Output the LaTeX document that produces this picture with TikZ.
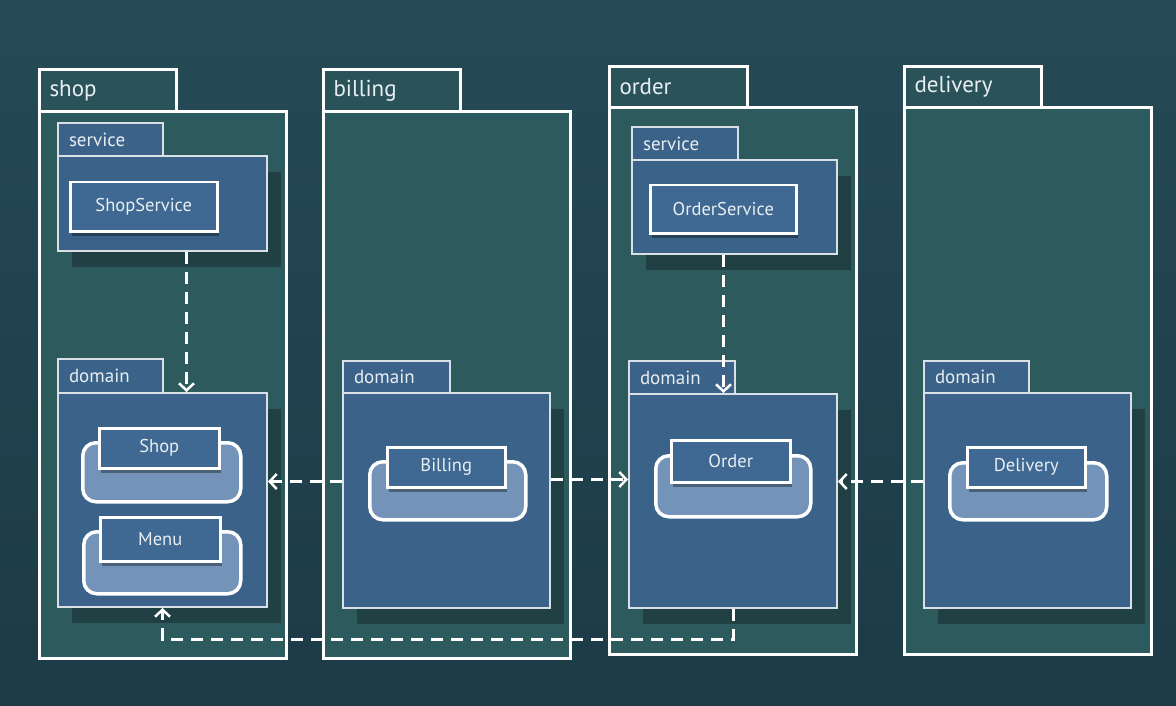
\documentclass[tikz,border=0pt]{standalone}
\usepackage{fontspec}
\setmainfont{PT Sans}
\usetikzlibrary{arrows.meta,shadows}
\definecolor{bgdark}{HTML}{1D3B47}
\definecolor{bglight}{HTML}{254B57}
\definecolor{pkgteal}{HTML}{2D5A5D}
\definecolor{tabteal}{HTML}{2A5359}
\definecolor{innerblue}{HTML}{3B6389}
\definecolor{classblue}{HTML}{3F6892}
\definecolor{backblue}{HTML}{7394B8}
\definecolor{inkwhite}{HTML}{E8EEF2}
\definecolor{rimgray}{HTML}{D9E1E6}
\tikzset{
  pkgbody/.style={draw=white, line width=3pt, fill=pkgteal, anchor=north west, inner sep=0pt},
  pkgtab/.style={draw=white, line width=3pt, fill=tabteal, anchor=north west, inner sep=0pt,
    inner xsep=10pt, align=left, text=inkwhite, font=\fontsize{23}{26}\selectfont},
  subbody/.style={draw=rimgray, line width=2pt, fill=innerblue, anchor=north west, inner sep=0pt,
    drop shadow={shadow xshift=14pt, shadow yshift=-16pt, opacity=.28, fill=black}},
  subtab/.style={draw=rimgray, line width=2pt, fill=innerblue, anchor=north west, inner sep=0pt,
    inner xsep=11pt, align=left, text=inkwhite, font=\fontsize{19}{22}\selectfont},
  classbox/.style={draw=white, line width=2.5pt, fill=classblue, anchor=north west, inner sep=0pt,
    text=inkwhite, font=\fontsize{18.5}{22}\selectfont,
    drop shadow={shadow xshift=2pt, shadow yshift=-5pt, opacity=.35, fill=black}},
  backing/.style={draw=white, line width=3.5pt, fill=backblue, rounded corners=13pt, anchor=north west, inner sep=0pt},
  dep/.style={draw=white, line width=3pt, dash pattern=on 12pt off 8pt,
    -{Straight Barb[length=7pt,width=15pt,line width=2.5pt]}}
}
\begin{document}
\begin{tikzpicture}[x=1pt,y=-1pt]
\shade[top color=bglight, bottom color=bgdark, middle color=bgdark!60!bglight] (0,0) rectangle (1176,706);
\useasboundingbox (0,0) rectangle (1176,706);
% shop
\node[pkgbody, minimum width=247pt, minimum height=547pt] (shop) at (38,110) {};
\node[pkgtab, minimum width=137pt, minimum height=42pt, text width=117pt] (shoptab) at (38,68) {shop};
\node[subbody, minimum width=209pt, minimum height=95pt] (shopsvc) at (57,155) {};
\node[subtab, minimum width=105pt, minimum height=33pt, text width=83pt] (shopsvctab) at (57,122) {service};
\node[classbox, minimum width=147pt, minimum height=49pt] (shopservice) at (69,181) {ShopService};
\node[subbody, minimum width=209pt, minimum height=214pt] (shopdom) at (57,392) {};
\node[subtab, minimum width=105pt, minimum height=34pt, text width=83pt] (shopdomtab) at (57,358) {domain};
\node[backing, minimum width=158pt, minimum height=59pt] (shopback) at (81,441) {};
\node[classbox, minimum width=120pt, minimum height=40pt] (shopent) at (98,427) {Shop};
\node[backing, minimum width=157pt, minimum height=62pt] (menuback) at (82,530) {};
\node[classbox, minimum width=120pt, minimum height=44pt] (menuent) at (99,516) {Menu};
% billing
\node[pkgbody, minimum width=247pt, minimum height=547pt] (billing) at (322,110) {};
\node[pkgtab, minimum width=137pt, minimum height=42pt, text width=117pt] (billingtab) at (322,68) {billing};
\node[subbody, minimum width=207pt, minimum height=215pt] (bildom) at (342,392) {};
\node[subtab, minimum width=107pt, minimum height=32pt, text width=85pt] (bildomtab) at (342,360) {domain};
\node[backing, minimum width=156pt, minimum height=58pt] (billback) at (368,460) {};
\node[classbox, minimum width=118pt, minimum height=40pt] (billent) at (386,446) {Billing};
% order
\node[pkgbody, minimum width=247pt, minimum height=547pt] (order) at (608,106) {};
\node[pkgtab, minimum width=138pt, minimum height=41pt, text width=118pt] (ordertab) at (608,65) {order};
\node[subbody, minimum width=205pt, minimum height=94pt] (ordsvc) at (631,159) {};
\node[subtab, minimum width=106pt, minimum height=33pt, text width=84pt] (ordsvctab) at (631,126) {service};
\node[classbox, minimum width=146pt, minimum height=48pt] (orderservice) at (649,184) {OrderService};
\node[subbody, minimum width=208pt, minimum height=214pt] (orddom) at (628,393) {};
\node[subtab, minimum width=106pt, minimum height=33pt, text width=84pt] (orddomtab) at (628,360) {domain};
\node[backing, minimum width=155pt, minimum height=61pt] (ordback) at (654,454) {};
\node[classbox, minimum width=119pt, minimum height=42pt] (ordent) at (670,439) {Order};
% delivery
\node[pkgbody, minimum width=247pt, minimum height=547pt] (delivery) at (903,106) {};
\node[pkgtab, minimum width=137pt, minimum height=41pt, text width=117pt] (deliverytab) at (903,65) {delivery};
\node[subbody, minimum width=207pt, minimum height=215pt] (deldom) at (923,392) {};
\node[subtab, minimum width=105pt, minimum height=32pt, text width=83pt] (deldomtab) at (923,360) {domain};
\node[backing, minimum width=157pt, minimum height=57pt] (delback) at (948,461) {};
\node[classbox, minimum width=118pt, minimum height=40pt] (delent) at (966,446) {Delivery};
% dependencies
\draw[dep] ([xshift=24pt]shopsvc.south) -- ([xshift=24pt]shopsvc.south |- shopdom.north);
\draw[dep] ([xshift=-11pt]ordsvc.south) -- ([xshift=-11pt]ordsvc.south |- orddom.north);
\draw[dep] ([yshift=19pt]bildom.west) -- ([yshift=19pt]bildom.west -| shopdom.east);
\draw[dep] ([yshift=21pt]bildom.east) -- ([yshift=21pt]bildom.east -| orddom.west);
\draw[dep] ([yshift=19pt]deldom.west) -- ([yshift=19pt]deldom.west -| orddom.east);
\draw[dep] (orddom.south) -- ++(0,30) -| (shopdom.south);
\end{tikzpicture}
\end{document}
